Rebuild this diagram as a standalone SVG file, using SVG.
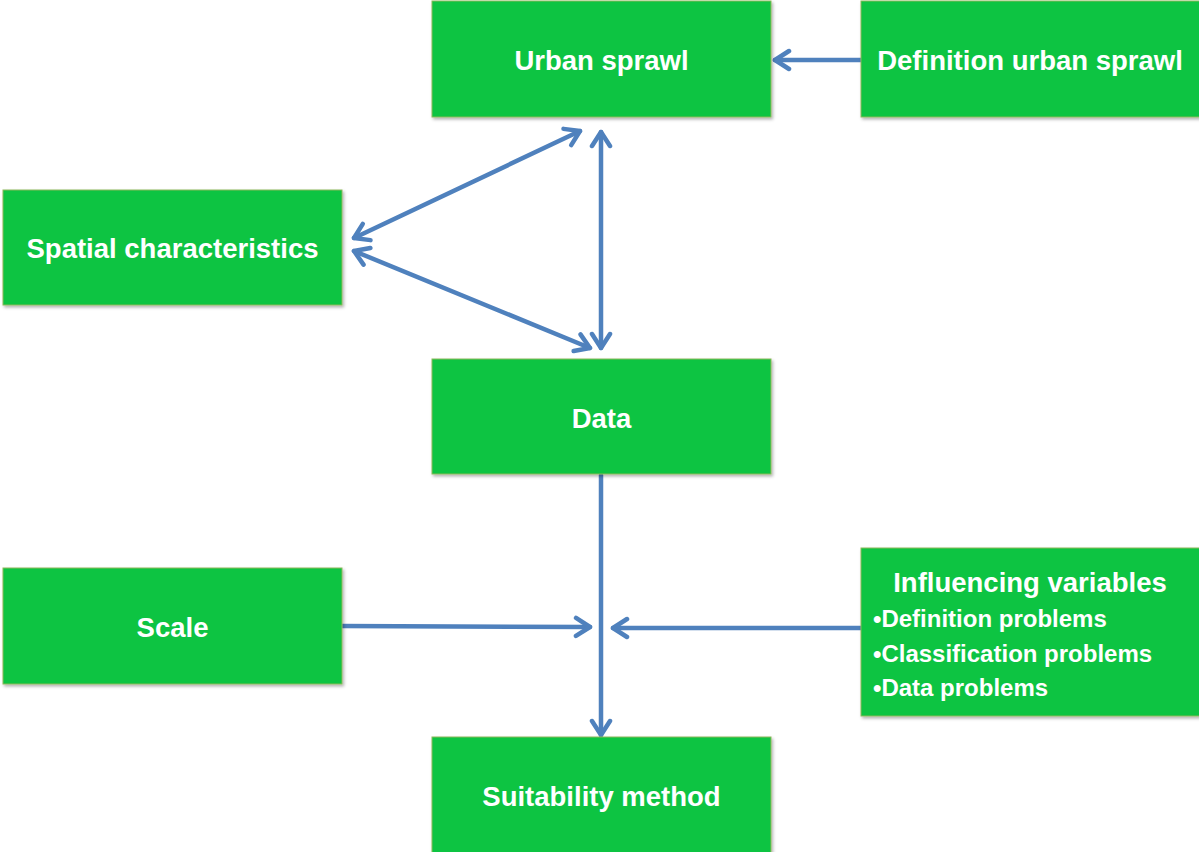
<svg xmlns="http://www.w3.org/2000/svg" width="1199" height="852" viewBox="0 0 1199 852">
<style>
.box{fill:#0BC443;stroke:#8CB85A;stroke-width:1}
.t{font-family:"Liberation Sans",Arial,sans-serif;font-weight:bold;font-size:27.5px;fill:#FFFFFF;text-anchor:middle}
.tl{text-anchor:start;font-size:24px}
.c{stroke:#4F81BD;stroke-width:4.5;fill:none;stroke-linecap:round}
</style>
<defs>
<filter id="sh" x="-5%" y="-5%" width="110%" height="115%">
<feDropShadow dx="1.5" dy="2" stdDeviation="1.5" flood-color="#000" flood-opacity="0.3"/>
</filter>
<marker id="ah" viewBox="0 0 24 24" refX="21" refY="12" markerWidth="24" markerHeight="24" markerUnits="userSpaceOnUse" orient="auto-start-reverse">
<path d="M7,3 L21,12 L7,21" fill="none" stroke="#4F81BD" stroke-width="4.5" stroke-linecap="round" stroke-linejoin="round"/>
</marker>
</defs>
<g id="connectors">
<line class="c" x1="861" y1="60" x2="775" y2="60" marker-end="url(#ah)"/>
<line class="c" x1="354" y1="238" x2="580" y2="131" marker-start="url(#ah)" marker-end="url(#ah)"/>
<line class="c" x1="354" y1="251" x2="590" y2="348" marker-start="url(#ah)" marker-end="url(#ah)"/>
<line class="c" x1="601" y1="132" x2="601" y2="348" marker-start="url(#ah)" marker-end="url(#ah)"/>
<line class="c" x1="601" y1="475" x2="601" y2="735" marker-end="url(#ah)"/>
<line class="c" x1="342" y1="626" x2="590" y2="627" marker-end="url(#ah)"/>
<line class="c" x1="861" y1="628" x2="613" y2="628" marker-end="url(#ah)"/>
</g>
<g id="urban-sprawl"><rect class="box" filter="url(#sh)" x="432" y="1" width="339" height="116"/><text class="t" x="601.5" y="70">Urban sprawl</text></g>
<g id="definition-urban-sprawl"><rect class="box" filter="url(#sh)" x="861" y="1" width="340" height="116"/><text class="t" x="1030" y="70">Definition urban sprawl</text></g>
<g id="spatial-characteristics"><rect class="box" filter="url(#sh)" x="3" y="190" width="339" height="115"/><text class="t" x="172.5" y="258">Spatial characteristics</text></g>
<g id="data"><rect class="box" filter="url(#sh)" x="432" y="359" width="339" height="115"/><text class="t" x="601.5" y="428">Data</text></g>
<g id="scale"><rect class="box" filter="url(#sh)" x="3" y="568" width="339" height="116"/><text class="t" x="172.5" y="637">Scale</text></g>
<g id="influencing-variables"><rect class="box" filter="url(#sh)" x="861" y="548" width="340" height="168"/>
<text class="t" x="1030" y="592">Influencing variables</text>
<text class="t tl" x="873" y="627">•Definition problems</text>
<text class="t tl" x="873" y="662">•Classification problems</text>
<text class="t tl" x="873" y="696">•Data problems</text></g>
<g id="suitability-method"><rect class="box" filter="url(#sh)" x="432" y="737" width="339" height="116"/><text class="t" x="601.5" y="806">Suitability method</text></g>
</svg>
